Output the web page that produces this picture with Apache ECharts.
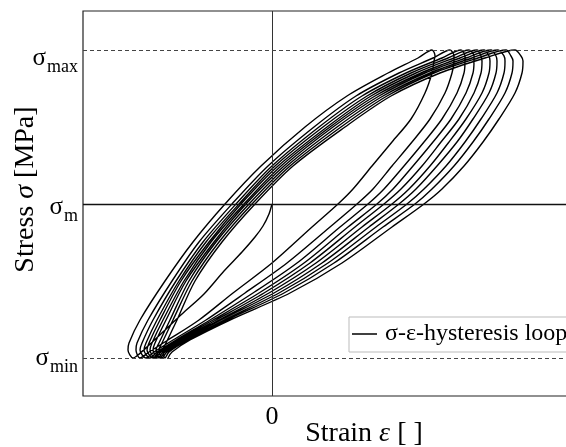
<!DOCTYPE html>
<html>
<head>
<meta charset="utf-8">
<script src="https://cdn.jsdelivr.net/npm/echarts@6/dist/echarts.min.js"></script>
<style>
  html, body { margin: 0; padding: 0; background: #fff; }
  #chart { width: 566px; height: 447px; }
</style>
</head>
<body>
<div id="chart"></div>
<script>
// Stress levels: σm = 0, σmax / σmin = ±154
const stressTicks = [-154, 0, 154];
const stressTickNames = ['min', 'm', 'max'];
const strainTicks = [0];

// First loading from the origin down to σmin
const initialStrain = [0, -3, -9, -17, -30, -48, -68, -90, -108, -124, -134, -139];
const initialStress = [0, -10, -22, -33, -48, -67, -90, -110, -127, -142, -151, -154];

// Stress levels along each rising branch (σmin -> σmax)
const loadStress = [-154, -146, -139, -116, -77, -38, 0, 38, 77, 108, 131, 146, 154];
// Stress levels along each falling branch (σmax -> σmin)
const unloadStress = [148, 143, 131, 111, 85, 62, 38, 15, 0, -23, -59, -89, -116, -136, -148, -154];

// Strain along the rising branch of each cycle
const loadStrain = [
  [-139, -144, -143, -132, -107, -79, -47, -11, 33, 75, 116, 146, 160],
  [-132, -136, -135, -124, -100, -73, -40, -4, 42, 84, 127, 161, 178],
  [-126, -132, -130, -119, -96, -69, -36, 0, 47, 90, 134, 170, 189],
  [-122, -128, -126, -115, -93, -66, -33, 3, 51, 95, 139, 176, 197],
  [-119, -125, -123, -112, -91, -63, -31, 6, 55, 99, 144, 182, 205],
  [-117, -122, -120, -109, -88, -61, -28, 9, 58, 103, 149, 188, 212],
  [-114, -119, -117, -106, -86, -58, -26, 12, 61, 107, 153, 194, 219],
  [-112, -116, -113, -102, -83, -56, -23, 15, 65, 111, 158, 200, 226],
  [-110, -113, -110, -99, -80, -53, -20, 18, 69, 115, 162, 206, 234],
  [-107, -109, -106, -95, -77, -50, -17, 21, 73, 119, 168, 213, 243]
];

// Strain along the falling branch of each cycle
const unloadStrain = [
  [163, 162, 160, 153, 139, 120, 100, 81, 66, 40, 0, -39, -73, -104, -123, -132],
  [182, 182, 180, 173, 158, 140, 120, 101, 85, 58, 15, -27, -66, -99, -118, -126],
  [193, 193, 192, 185, 170, 152, 132, 112, 96, 68, 25, -19, -62, -96, -115, -122],
  [202, 202, 201, 194, 179, 161, 141, 121, 105, 76, 32, -13, -59, -94, -113, -119],
  [209, 210, 209, 202, 187, 169, 150, 129, 112, 83, 38, -8, -56, -92, -111, -117],
  [217, 218, 217, 210, 194, 177, 158, 137, 120, 90, 44, -3, -53, -90, -109, -114],
  [224, 225, 224, 217, 201, 185, 165, 144, 127, 97, 50, 2, -51, -88, -107, -112],
  [232, 233, 232, 225, 209, 193, 174, 152, 135, 104, 56, 7, -48, -86, -105, -110],
  [239, 241, 240, 233, 217, 201, 182, 160, 143, 111, 62, 12, -45, -84, -103, -107],
  [249, 251, 250, 243, 227, 211, 192, 170, 152, 120, 70, 18, -42, -82, -100, -104]
];

const SERIF = 'Liberation Serif, DejaVu Serif, serif';

// Chain every branch into one continuous strain-stress path
const path = [];
function append(xs, ys) {
  xs.forEach((x, i) => {
    const last = path[path.length - 1];
    if (!last || last[0] !== x || last[1] !== ys[i]) path.push([x, ys[i]]);
  });
}
append(initialStrain, initialStress);
for (let c = 0; c < loadStrain.length; c++) {
  append(loadStrain[c], loadStress);
  append(unloadStrain[c], unloadStress);
}

const chart = echarts.init(document.getElementById('chart'), null, { renderer: 'canvas' });

chart.setOption({
  animation: false,
  backgroundColor: '#fff',
  grid: {
    left: 83, top: 11, right: -21, bottom: 51,
    outerBoundsMode: 'none', containLabel: false,
    show: true, borderColor: '#222', borderWidth: 1.2, backgroundColor: 'transparent'
  },
  legend: {
    left: 349, top: 317,
    padding: [5, 12, 6, 3],
    borderColor: '#bbb', borderWidth: 1,
    itemWidth: 25, itemHeight: 1.5,
    icon: 'rect',
    textStyle: { fontFamily: SERIF, fontSize: 24, color: '#000', padding: [0, 0, 0, 3] },
    data: ['σ-ε-hysteresis loop']
  },
  xAxis: {
    type: 'value', min: -189, max: 315,
    axisLine: { show: false }, axisTick: { show: false }, splitLine: { show: false },
    axisLabel: {
      customValues: strainTicks, margin: 8,
      fontFamily: SERIF, fontSize: 26, color: '#000',
      formatter: v => String(v)
    },
    name: '{t|Strain }{i|ε}{t| [ ]}',
    nameLocation: 'middle', nameGap: 24, nameMoveOverlap: false,
    nameTextStyle: {
      padding: [0, 0, 0, 58],
      rich: {
        t: { fontFamily: SERIF, fontSize: 28, color: '#000' },
        i: { fontFamily: SERIF, fontSize: 28, fontStyle: 'italic', color: '#000' }
      }
    }
  },
  yAxis: {
    type: 'value', min: -192, max: 193,
    axisLine: { show: false }, axisTick: { show: false }, splitLine: { show: false },
    axisLabel: {
      customValues: stressTicks, margin: 5,
      formatter: v => {
        const n = stressTickNames[stressTicks.indexOf(v)];
        return '{s' + n + '|σ}{u' + n + '|' + n + '}';
      },
      rich: {
        smax: { fontFamily: SERIF, fontSize: 25, color: '#000', padding: [16, 0, 0, 0] },
        umax: { fontFamily: SERIF, fontSize: 18, color: '#000', padding: [34, 0, 0, 1] },
        sm: { fontFamily: SERIF, fontSize: 25, color: '#000', padding: [6, 0, 0, 0] },
        um: { fontFamily: SERIF, fontSize: 18, color: '#000', padding: [24, 0, 0, 1] },
        smin: { fontFamily: SERIF, fontSize: 25, color: '#000', padding: [0, 0, 0, 0] },
        umin: { fontFamily: SERIF, fontSize: 18, color: '#000', padding: [18, 0, 0, 1] }
      }
    },
    name: '{t|Stress }{i|σ}{t| [MPa]}',
    nameLocation: 'middle', nameGap: 43, nameRotate: 90, nameMoveOverlap: false,
    nameTextStyle: {
      padding: [0, 0, 0, 28],
      rich: {
        t: { fontFamily: SERIF, fontSize: 28, color: '#000' },
        i: { fontFamily: SERIF, fontSize: 28, fontStyle: 'italic', color: '#000' }
      }
    }
  },
  series: [{
    name: 'σ-ε-hysteresis loop',
    type: 'line',
    data: path,
    symbol: 'none', showSymbol: false,
    smooth: 0.3,
    itemStyle: { color: '#000' },
    lineStyle: { color: '#000', width: 1.4 },
    z: 3,
    markLine: {
      silent: true, symbol: 'none', animation: false,
      label: { show: false },
      data: [
        { xAxis: 0, lineStyle: { color: '#333', width: 1, type: 'solid' } },
        { yAxis: stressTicks[1], lineStyle: { color: '#111', width: 1.3, type: 'solid' } },
        { yAxis: stressTicks[2], lineStyle: { color: '#444', width: 1, type: [4, 3] } },
        { yAxis: stressTicks[0], lineStyle: { color: '#444', width: 1, type: [4, 3] } }
      ]
    }
  }]
});
</script>
</body>
</html>
